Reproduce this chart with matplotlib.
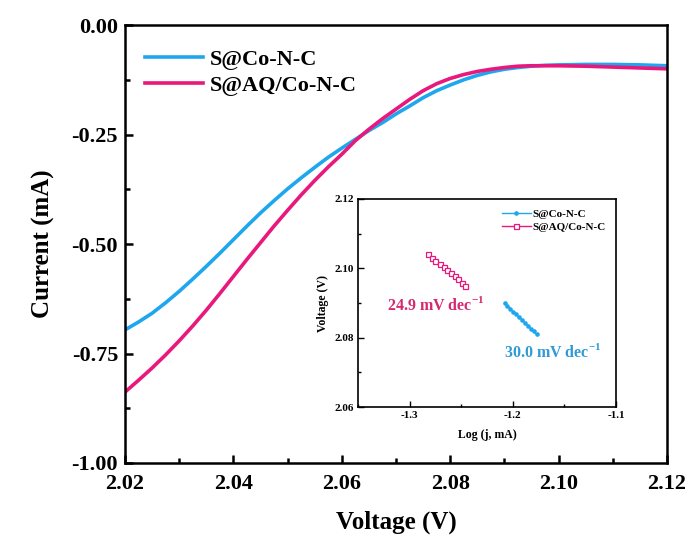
import matplotlib
matplotlib.use("Agg")
import matplotlib.pyplot as plt
from matplotlib.ticker import MultipleLocator

plt.rcParams['font.family'] = ['Liberation Serif', 'DejaVu Serif']
plt.rcParams['font.weight'] = 'bold'
plt.rcParams['axes.labelweight'] = 'bold'
plt.rcParams['mathtext.fontset'] = 'custom'
plt.rcParams['mathtext.rm'] = 'Liberation Serif:bold'
plt.rcParams['mathtext.bf'] = 'Liberation Serif:bold'

BLUE = '#1ea7ee'
PINK = '#e8187c'

# main LSV curves
v_co = [2.020, 2.0225, 2.025, 2.0275, 2.030, 2.0325, 2.035, 2.0375, 2.040, 2.0425,
        2.045, 2.0475, 2.050, 2.0525, 2.055, 2.0575, 2.060, 2.0625, 2.065, 2.0675,
        2.070, 2.0725, 2.075, 2.0775, 2.080, 2.0825, 2.085, 2.0875, 2.090, 2.0925,
        2.095, 2.0975, 2.100, 2.105, 2.110, 2.115, 2.120]
i_co = [-0.696, -0.678, -0.658, -0.634, -0.608, -0.580, -0.551, -0.521, -0.490, -0.459,
        -0.429, -0.401, -0.374, -0.349, -0.325, -0.302, -0.281, -0.261, -0.241, -0.223,
        -0.203, -0.185, -0.166, -0.150, -0.137, -0.125, -0.115, -0.107, -0.101, -0.097,
        -0.094, -0.092, -0.091, -0.090, -0.090, -0.091, -0.093]

v_aq = [2.020, 2.0225, 2.025, 2.0275, 2.030, 2.0325, 2.035, 2.0375, 2.040, 2.0425,
        2.045, 2.0475, 2.050, 2.0525, 2.055, 2.0575, 2.060, 2.0625, 2.065, 2.0675,
        2.070, 2.0725, 2.075, 2.0775, 2.080, 2.0825, 2.085, 2.0875, 2.090, 2.0925,
        2.095, 2.100, 2.105, 2.110, 2.115, 2.120]
i_aq = [-0.838, -0.811, -0.783, -0.753, -0.721, -0.687, -0.651, -0.613, -0.574, -0.535,
        -0.497, -0.459, -0.423, -0.388, -0.355, -0.324, -0.295, -0.264, -0.238, -0.214,
        -0.192, -0.170, -0.150, -0.134, -0.122, -0.113, -0.106, -0.101, -0.097, -0.094,
        -0.093, -0.093, -0.094, -0.096, -0.098, -0.100]

# Tafel inset
logj_co = [-1.2080, -1.2052, -1.2024, -1.1995, -1.1967, -1.1939, -1.1911, -1.1883,
           -1.1855, -1.1826, -1.1798, -1.1770]
volt_co = [2.0900, 2.0892, 2.0884, 2.0875, 2.0867, 2.0859, 2.0851, 2.0843,
           2.0835, 2.0826, 2.0818, 2.0810]
logj_aq = [-1.282, -1.278, -1.275, -1.271, -1.267, -1.264, -1.260, -1.256,
           -1.253, -1.249, -1.246]
volt_aq = [2.1040, 2.1031, 2.1022, 2.1013, 2.1004, 2.0995, 2.0986, 2.0977,
           2.0968, 2.0959, 2.0950]

fig = plt.figure(figsize=(6.93, 5.44), dpi=100)
ax = fig.add_axes([0.1804, 0.1489, 0.7821, 0.8051])

ax.plot(v_co, i_co, color=BLUE, lw=2.6, label='S@Co-N-C')
ax.plot(v_aq, i_aq, color=PINK, lw=2.6, label='S@AQ/Co-N-C')
ax.set_xlim(2.02, 2.12)
ax.set_ylim(-1.0, 0.0)
ax.xaxis.set_minor_locator(MultipleLocator(0.01))
ax.yaxis.set_minor_locator(MultipleLocator(0.125))
ax.set_xticks([2.02, 2.04, 2.06, 2.08, 2.10, 2.12])
ax.set_xticklabels(['2.02', '2.04', '2.06', '2.08', '2.10', '2.12'])
ax.set_yticks([0.0, -0.25, -0.5, -0.75, -1.0])
ax.set_yticklabels(['0.00', '-0.25', '-0.50', '-0.75', '-1.00'])
ax.tick_params(which='both', direction='in', top=False, right=False, width=1.8)
ax.tick_params(which='major', length=6, labelsize=16)
ax.tick_params(axis='x', which='major', pad=8)
ax.tick_params(axis='y', which='major', pad=5)
ax.tick_params(which='minor', length=3.5)
for s in ax.spines.values():
    s.set_linewidth(1.8)
ax.set_xlabel('Voltage (V)', fontsize=18, labelpad=12)
ax.set_ylabel('Current (mA)', fontsize=18, labelpad=12)
ax.legend(loc='upper left', bbox_to_anchor=(0.0, 0.99), frameon=False, fontsize=16,
          handlelength=2.6, handletextpad=0.3, labelspacing=0.25)

ins = fig.add_axes([0.5166, 0.2518, 0.3723, 0.3824])
ins.plot(logj_co, volt_co, color=BLUE, lw=1.0, marker='o', ms=2.3,
         label='S@Co-N-C')
ins.plot(logj_aq, volt_aq, color=PINK, lw=1.0, marker='s', ms=3.6, mfc='white',
         mec=PINK, mew=0.9, label='S@AQ/Co-N-C')
ins.set_xlim(-1.35, -1.1)
ins.set_ylim(2.06, 2.12)
ins.set_xticks([-1.3, -1.2, -1.1])
ins.set_xticklabels(['-1.3', '-1.2', '-1.1'])
ins.xaxis.set_minor_locator(MultipleLocator(0.05))
ins.set_yticks([2.06, 2.08, 2.10, 2.12])
ins.set_yticklabels(['2.06', '2.08', '2.10', '2.12'])
ins.yaxis.set_minor_locator(MultipleLocator(0.01))
ins.tick_params(which='both', direction='in', top=False, right=False, width=1.0)
ins.tick_params(which='major', length=4, labelsize=8, pad=3)
ins.tick_params(which='minor', length=2.5)
for s in ins.spines.values():
    s.set_linewidth(1.2)
ins.set_xlabel('Log (j, mA)', fontsize=8.5, labelpad=6)
ins.set_ylabel('Voltage (V)', fontsize=8.5, labelpad=4)
ins.legend(loc='upper right', bbox_to_anchor=(1.0, 1.0), frameon=False, fontsize=8,
           handlelength=2.6, handletextpad=0.2, labelspacing=0.3)
ins.text(-1.3216, 2.088, r'24.9 mV dec$^{-1}$', color='#d6286f', fontsize=11.5,
         fontweight='bold', ha='left', va='baseline')
ins.text(-1.2086, 2.0745, r'30.0 mV dec$^{-1}$', color='#2f9ad8', fontsize=11.5,
         fontweight='bold', ha='left', va='baseline')

fig.savefig('out.png', dpi=100)
